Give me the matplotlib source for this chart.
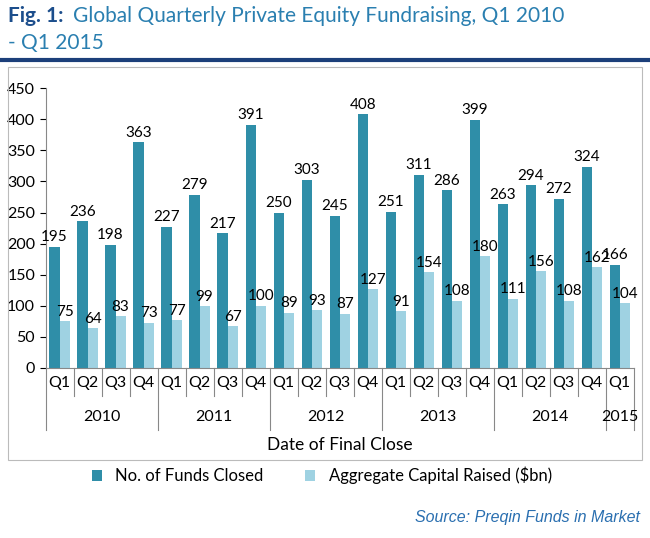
import numpy as np
import matplotlib.pyplot as plt
from matplotlib.lines import Line2D

quarters = ['Q1', 'Q2', 'Q3', 'Q4'] * 5 + ['Q1']
years = ['2010', '2011', '2012', '2013', '2014', '2015']
funds = [195, 236, 198, 363, 227, 279, 217, 391, 250, 303, 245, 408,
         251, 311, 286, 399, 263, 294, 272, 324, 166]
capital = [75, 64, 83, 73, 77, 99, 67, 100, 89, 93, 87, 127,
           91, 154, 108, 180, 111, 156, 108, 162, 104]

dark = '#2f8ea8'
light = '#9fd2e2'
plt.rcParams['font.family'] = ['Lato', 'DejaVu Sans']

fig = plt.figure(figsize=(6.5, 5.38), dpi=100)
fig.text(0.012, 0.988, 'Fig. 1:', fontsize=15, fontweight='bold', color='#1c4e8c', va='top')
fig.text(0.112, 0.988, 'Global Quarterly Private Equity Fundraising, Q1 2010', fontsize=15,
         color='#2a7fb0', va='top')
fig.text(0.012, 0.938, '- Q1 2015', fontsize=15, color='#2a7fb0', va='top')
fig.add_artist(Line2D([0.0, 1.0], [0.888, 0.888], color='#1c3f7a', lw=3))
fig.add_artist(plt.Rectangle((0.012, 0.145), 0.975, 0.73, fill=False, ec='#bbbbbb', lw=0.8))

ax = fig.add_axes([0.07, 0.316, 0.905, 0.52])
x = np.arange(len(funds))
w = 0.36
ax.bar(x - w / 2, funds, w, color=dark, label='No. of Funds Closed')
ax.bar(x + w / 2, capital, w, color=light, label='Aggregate Capital Raised ($bn)')
for xi, f, c in zip(x, funds, capital):
    ax.text(xi - w / 2, f + 4, str(f), ha='center', va='bottom', fontsize=11)
    ax.text(xi + w / 2, c + 4, str(c), ha='center', va='bottom', fontsize=11)

ax.set_xlim(-0.5, len(funds) - 0.5)
ax.set_ylim(0, 450)
ax.set_yticks(range(0, 451, 50))
ax.tick_params(axis='y', labelsize=11.5, length=4)
ax.set_xticks([])
for s in ['top', 'right']:
    ax.spines[s].set_visible(False)
ax.spines['left'].set_color('#888888')
ax.spines['bottom'].set_color('#888888')

tr = ax.get_xaxis_transform()
for xi, q in zip(x, quarters):
    ax.text(xi, -0.03, q, ha='center', va='top', fontsize=11.5, transform=tr)
for i in range(len(funds) + 1):
    top = -0.10 if i % 4 else -0.22
    if i == len(funds):
        top = -0.22
    ax.plot([i - 0.5, i - 0.5], [0, top], color='#888888', lw=0.8, transform=tr, clip_on=False)
for k, yr in enumerate(years):
    start = k * 4 - 0.5
    end = min(start + 4, len(funds) - 0.5)
    ax.text((start + end) / 2, -0.15, yr, ha='center', va='top', fontsize=11.5, transform=tr)
ax.text(0.5, -0.245, 'Date of Final Close', ha='center', va='top', fontsize=12.5,
        transform=ax.transAxes)
ax.legend(loc='upper center', bbox_to_anchor=(0.47, -0.3), ncol=2, frameon=False,
          fontsize=12, handlelength=0.6, handleheight=0.6, columnspacing=2.5)

fig.text(0.985, 0.025, 'Source: Preqin Funds in Market', fontsize=11.5, style='italic',
         color='#2a6fb0', ha='right', va='bottom', family=['Liberation Sans', 'DejaVu Sans'])
fig.savefig('out.png', dpi=100)
